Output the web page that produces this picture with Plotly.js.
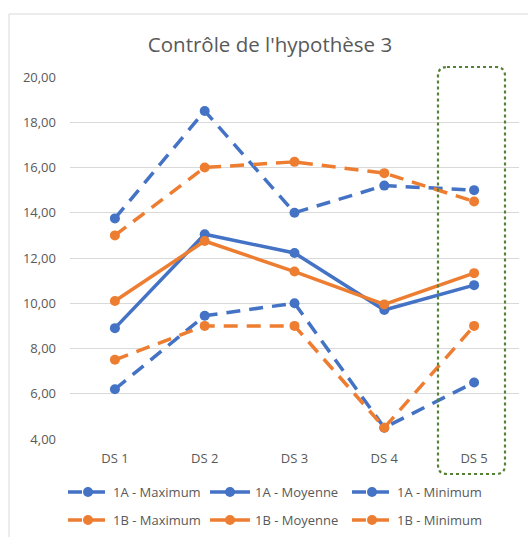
<!DOCTYPE html>
<html><head><meta charset="utf-8">
<script src="https://cdn.plot.ly/plotly-3.0.1.min.js"></script>
<style>html,body{margin:0;padding:0;background:#fff}</style>
</head><body>
<div id="chart" style="width:528px;height:537px"></div>
<script>
const categories = ["DS 1", "DS 2", "DS 3", "DS 4", "DS 5"];
const max1A = [13.75, 18.5, 14.0, 15.2, 15.0];
const moy1A = [8.9, 13.05, 12.22, 9.7, 10.8];
const min1A = [6.2, 9.45, 10.0, 4.5, 6.5];
const max1B = [13.0, 16.0, 16.25, 15.75, 14.5];
const moy1B = [10.1, 12.75, 11.4, 9.95, 11.33];
const min1B = [7.5, 9.0, 9.0, 4.5, 9.0];
const yTicks = [4, 6, 8, 10, 12, 14, 16, 18, 20];

const BLUE = "#4472C4", ORANGE = "#ED7D31";
function tr(name, y, color, dash, leg) {
  return {x: categories, y: y, name: name, type: "scatter", mode: "lines+markers",
    legend: leg,
    line: {color: color, width: 3.5, dash: dash},
    marker: {color: color, size: 10}};
}
const DASH = "14px,9px";
const data = [
  tr("1A - Maximum", max1A, BLUE, DASH, "legend"),
  tr("1A - Moyenne", moy1A, BLUE, "solid", "legend"),
  tr("1A - Minimum", min1A, BLUE, DASH, "legend"),
  tr("1B - Maximum", max1B, ORANGE, DASH, "legend2"),
  tr("1B - Moyenne", moy1B, ORANGE, "solid", "legend2"),
  tr("1B - Minimum", min1B, ORANGE, DASH, "legend2")
];

const L = 70, R = 9, T = 77, B = 98, W = 528, H = 537;
const pw = W - L - R, ph = H - T - B;
const px = v => (v - L) / pw;
const py = v => (H - B - v) / ph;
function rrect(x0, y0, x1, y1, r) {
  const a = px(x0), b = px(x1), c = py(y0), d = py(y1);
  const rx = r / pw, ry = r / ph;
  return `M ${a+rx},${c} L ${b-rx},${c} Q ${b},${c} ${b},${c-ry} L ${b},${d+ry} Q ${b},${d} ${b-rx},${d} L ${a+rx},${d} Q ${a},${d} ${a},${d+ry} L ${a},${c-ry} Q ${a},${c} ${a+rx},${c} Z`;
}
const FONT = "'Open Sans', 'Noto Sans', sans-serif";
function leg(ycenter) {
  return {orientation: "h", x: px(63), xanchor: "left", y: py(ycenter), yanchor: "middle",
    entrywidth: 87, entrywidthmode: "pixels", font: {size: 13, color: "#595959", family: FONT},
    bgcolor: "rgba(0,0,0,0)", traceorder: "normal", itemwidth: 40};
}

const layout = {
  width: W, height: H,
  margin: {l: L, r: R, t: T, b: B, autoexpand: false},
  paper_bgcolor: "#fff", plot_bgcolor: "#fff",
  separators: ", ",
  font: {family: FONT, color: "#595959", size: 13},
  title: {text: "Contrôle de l'hypothèse 3", font: {size: 20.5, color: "#595959", family: FONT},
    x: 270 / W, xanchor: "center", y: 1 - 45 / H, yanchor: "middle"},
  xaxis: {type: "category", range: [-0.5, 4.5], showgrid: false, zeroline: false, showline: false,
    ticks: "", ticklabelstandoff: 10, tickfont: {size: 13, color: "#595959"}, fixedrange: true},
  yaxis: {range: [4, 20], tickvals: yTicks, tickformat: ".2f",
    showgrid: true, gridcolor: "#D9D9D9", gridwidth: 1, zeroline: false, showline: false,
    ticks: "", ticklabelstandoff: 13, tickfont: {size: 13, color: "#595959"}, fixedrange: true},
  showlegend: true,
  legend: leg(492),
  legend2: leg(520),
  shapes: [
    {type: "rect", xref: "paper", yref: "paper", x0: px(9), x1: px(540), y0: py(14), y1: py(545),
      line: {color: "#D9D9D9", width: 1}, fillcolor: "rgba(0,0,0,0)", layer: "below"},
    {type: "path", xref: "paper", yref: "paper", path: rrect(438, 67, 505, 474, 9),
      line: {color: "#548235", width: 2.2, dash: "dot"}, fillcolor: "rgba(0,0,0,0)", layer: "above"}
  ]
};
Plotly.newPlot("chart", data, layout, {displayModeBar: false, staticPlot: true});
</script>
</body></html>
